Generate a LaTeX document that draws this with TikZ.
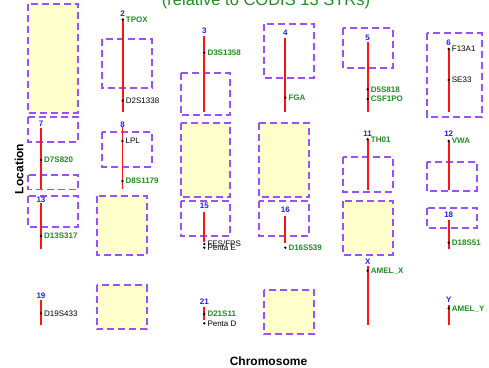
\documentclass[tikz,border=0pt]{standalone}
\usepackage{fontspec}
\setmainfont{Liberation Sans}
\definecolor{boxpurple}{RGB}{155,80,250}
\definecolor{boxyellow}{RGB}{255,255,204}
\definecolor{locgreen}{RGB}{34,139,34}
\definecolor{numblue}{RGB}{30,30,255}
\definecolor{chrred}{RGB}{255,20,20}
\tikzset{
  chrbox/.style={draw=boxpurple, line width=1.8pt, dash pattern=on 7pt off 4pt},
  emptybox/.style={chrbox, fill=boxyellow},
  chrline/.style={draw=chrred, line width=1.8pt},
  numlbl/.style={text=numblue, font=\fontsize{8}{9}\selectfont\bfseries, inner sep=0pt, text height=5.8pt, text depth=0pt},
  dotnode/.style={circle, fill=black, inner sep=0pt, minimum size=2.6pt},
  glbl/.style={text=locgreen, font=\fontsize{8}{9}\selectfont\bfseries, inner sep=0pt, text height=5.8pt, text depth=0pt, anchor=west},
  klbl/.style={text=black, font=\fontsize{8}{9}\selectfont, inner sep=0pt, text height=5.8pt, text depth=0pt, anchor=west},
}
\newcommand\chrom[5]{%
  \coordinate (t#1) at (#2,#4);
  \coordinate (b#1) at (#2,#5);
  \draw[chrline] (t#1) -- (b#1);
  \node[numlbl] (n#1) at (#2,#3) {#1};}
\newcommand\locus[5]{%
  \node[dotnode] (#1) at (#2,#3) {};
  \node[#4] (#1-t) at ([xshift=3pt]#1.center) {#5};}
\begin{document}
\begin{tikzpicture}[x=1pt,y=-1pt]
\useasboundingbox (0,0) rectangle (489,367);
% title (partly cut off)
\node[text=locgreen, font=\fontsize{16.5}{18}\selectfont, anchor=base, inner sep=0pt] (title) at (266,5.5) {(relative to CODIS 13 STRs)};
% axis labels
\node[font=\fontsize{12}{14}\selectfont\bfseries, rotate=90, inner sep=0pt] (ylab) at (19,169) {Location};
\node[font=\fontsize{12}{14}\selectfont\bfseries, anchor=base, inner sep=0pt] (xlab) at (268.5,365) {Chromosome};
% empty (yellow) cells
\draw[emptybox] (27.7,4) rectangle (77.7,113);
\draw[emptybox] (180.7,122.7) rectangle (230,197.3);
\draw[emptybox] (259.3,122.7) rectangle (309,197.3);
\draw[emptybox] (96.7,196) rectangle (146.7,255);
\draw[emptybox] (343.3,201) rectangle (392.7,255);
\draw[emptybox] (96.7,285) rectangle (146.7,329.3);
\draw[emptybox] (264.3,290) rectangle (314,334.3);
% dashed boxes
\draw[chrbox] (101.7,39) rectangle (151.7,88);
\draw[chrbox] (180.7,72.7) rectangle (230,115);
\draw[chrbox] (264.3,24) rectangle (314,78);
\draw[chrbox] (343.3,28.3) rectangle (392.7,68.3);
\draw[chrbox] (427,33.3) rectangle (482,117);
\draw[chrbox] (28,117) rectangle (78,142);
\draw[chrbox] (28,175) rectangle (78,189.5);
\draw[chrbox] (101.7,132.3) rectangle (151.7,166.7);
\draw[chrbox] (343.3,156.7) rectangle (392.7,191.7);
\draw[chrbox] (426.7,161.7) rectangle (476.7,191);
\draw[chrbox] (28,196) rectangle (78,227);
\draw[chrbox] (180.7,200.7) rectangle (230,236);
\draw[chrbox] (259.3,200.7) rectangle (309,236);
\draw[chrbox] (426.7,208.3) rectangle (476.7,228.3);
% chromosomes
\chrom{2}{122.7}{14}{20}{112}
\chrom{3}{204.3}{31}{36}{112}
\chrom{4}{285.3}{33}{38}{112}
\chrom{5}{367.7}{37.7}{42}{112}
\chrom{6}{448.7}{42.3}{49}{112}
\chrom{7}{41}{124}{128}{189}
\chrom{8}{122.5}{125}{127}{189}
\chrom{11}{367.7}{133.3}{139}{190}
\chrom{12}{448.7}{133.3}{141}{190}
\chrom{13}{41}{200}{203}{249}
\chrom{15}{204.3}{206}{211.7}{241.7}
\chrom{16}{285.3}{209.3}{216}{243}
\chrom{18}{448.7}{214.3}{220}{249.3}
\chrom{19}{41}{295.7}{300}{325}
\chrom{21}{204.3}{301.7}{306.7}{320}
\chrom{X}{367.7}{261.7}{266}{325}
\chrom{Y}{448.7}{299.3}{305}{325}
% loci
\locus{tpox}{122.7}{19.5}{glbl}{TPOX}
\locus{d2}{122.7}{100.7}{klbl}{D2S1338}
\locus{d3}{204.3}{52.7}{glbl}{D3S1358}
\locus{fga}{285.3}{97.7}{glbl}{FGA}
\locus{d5}{367.7}{89.3}{glbl}{D5S818}
\locus{csf}{367.7}{99}{glbl}{CSF1PO}
\locus{f13}{448.7}{49}{klbl}{F13A1}
\locus{se33}{448.7}{80}{klbl}{SE33}
\locus{d7}{41}{160}{glbl}{D7S820}
\locus{lpl}{122.5}{141}{klbl}{LPL}
\locus{d8}{122.5}{181}{glbl}{D8S1179}
\locus{th01}{367.7}{139.3}{glbl}{TH01}
\locus{vwa}{448.7}{141}{glbl}{VWA}
\locus{d13}{41}{236}{glbl}{D13S317}
\locus{fes}{204.3}{244}{klbl}{FES/FPS}
\locus{pentae}{204.3}{247.7}{klbl}{Penta E}
\locus{d16}{285.3}{247.7}{glbl}{D16S539}
\locus{d18}{448.7}{242.7}{glbl}{D18S51}
\locus{d19}{41}{313.3}{klbl}{D19S433}
\locus{d21}{204.3}{314}{glbl}{D21S11}
\locus{pentad}{204.3}{323.3}{klbl}{Penta D}
\locus{amelx}{367.7}{270.7}{glbl}{AMEL\_X}
\locus{amely}{448.7}{308.3}{glbl}{AMEL\_Y}
\end{tikzpicture}
\end{document}
